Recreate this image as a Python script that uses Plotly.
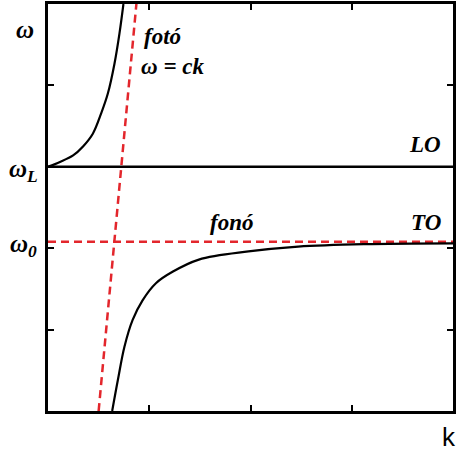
import plotly.graph_objects as go

# Dispersion data (k in axis units, omega in axis units)
upper_k = [0.0, 0.118, 0.248, 0.346, 0.444, 0.526, 0.591, 0.657, 0.706, 0.745]
upper_w = [3.0, 3.06, 3.14, 3.25, 3.41, 3.66, 3.90, 4.27, 4.64, 5.0]

lower_k = [0.634, 0.69, 0.755, 0.836, 0.934, 1.066, 1.23, 1.49, 1.98, 2.47, 3.12, 4.0]
lower_w = [0.0, 0.38, 0.79, 1.12, 1.36, 1.57, 1.71, 1.86, 1.96, 2.02, 2.05, 2.06]

photon_k = [0.5, 0.873]
photon_w = [0.0, 5.0]

omega_L = 3.0
omega_0 = 2.08
k_range = [0, 4]
w_range = [0, 5]
k_ticks = [0, 1, 2, 3, 4]
w_ticks = [0, 1, 2, 3, 4, 5]

RED = "#e3262c"
SERIF = "Liberation Serif, Times New Roman, serif"

fig = go.Figure()
fig.add_trace(go.Scatter(x=k_range, y=[omega_L, omega_L], mode="lines",
                         line=dict(color="black", width=2.5), hoverinfo="skip"))
fig.add_trace(go.Scatter(x=k_range, y=[omega_0, omega_0], mode="lines",
                         line=dict(color=RED, width=2.5, dash="8px,5px"), hoverinfo="skip"))
fig.add_trace(go.Scatter(x=photon_k, y=photon_w, mode="lines",
                         line=dict(color=RED, width=2.5, dash="8px,5px"), hoverinfo="skip"))
fig.add_trace(go.Scatter(x=upper_k, y=upper_w, mode="lines", line_shape="spline",
                         line=dict(color="black", width=2.2), hoverinfo="skip"))
fig.add_trace(go.Scatter(x=lower_k, y=lower_w, mode="lines", line_shape="spline",
                         line=dict(color="black", width=2.2), hoverinfo="skip"))

axis_common = dict(showgrid=False, zeroline=False, showline=True, linecolor="black",
                   linewidth=3, mirror="ticks", ticks="inside", ticklen=6,
                   tickwidth=2, tickcolor="black", showticklabels=False)
fig.update_xaxes(range=k_range, tickvals=k_ticks, **axis_common)
fig.update_yaxes(range=w_range, tickvals=w_ticks, **axis_common)

def lab(text, x, y, size=19, xref="x", yref="y", xanchor="center", family=SERIF):
    fig.add_annotation(text=text, x=x, y=y, xref=xref, yref=yref, showarrow=False,
                       xanchor=xanchor, yanchor="middle",
                       font=dict(family=family, size=size, color="black"))

# in-plot labels (data coords)
lab("<b><i>fotó</i></b>", 0.93, 4.6, size=23, xanchor="left")
lab("<b><i>ω = ck</i></b>", 0.9, 4.23, size=23, xanchor="left")
lab("<b><i>LO</i></b>", 3.9, 3.27, size=23, xanchor="right")
lab("<b><i>fonó</i></b>", 1.58, 2.31, size=23, xanchor="left")
lab("<b><i>TO</i></b>", 3.9, 2.31, size=23, xanchor="right")

# axis labels (paper coords)
lab("<b><i>ω</i></b>", -0.058, (411 - 30) / 407, size=25, xref="paper", yref="paper")
lab("<b><i>ω<sub>L</sub></i></b>", -0.06, (411 - 170) / 407, size=25, xref="paper", yref="paper")
lab("<b><i>ω<sub>0</sub></i></b>", -0.06, (411 - 246) / 407, size=25, xref="paper", yref="paper")
lab("k", (443 - 48) / 408, (411 - 437) / 407, size=26, xref="paper", yref="paper",
    xanchor="left", family="Liberation Sans, Arial, sans-serif")

fig.update_layout(width=456, height=452, margin=dict(l=48, r=0, t=4, b=41),
                  plot_bgcolor="white", paper_bgcolor="white", showlegend=False)

fig.write_html("out.html", config={"displayModeBar": False},
               post_script="document.body.style.margin='0';document.body.style.overflow='hidden';")
